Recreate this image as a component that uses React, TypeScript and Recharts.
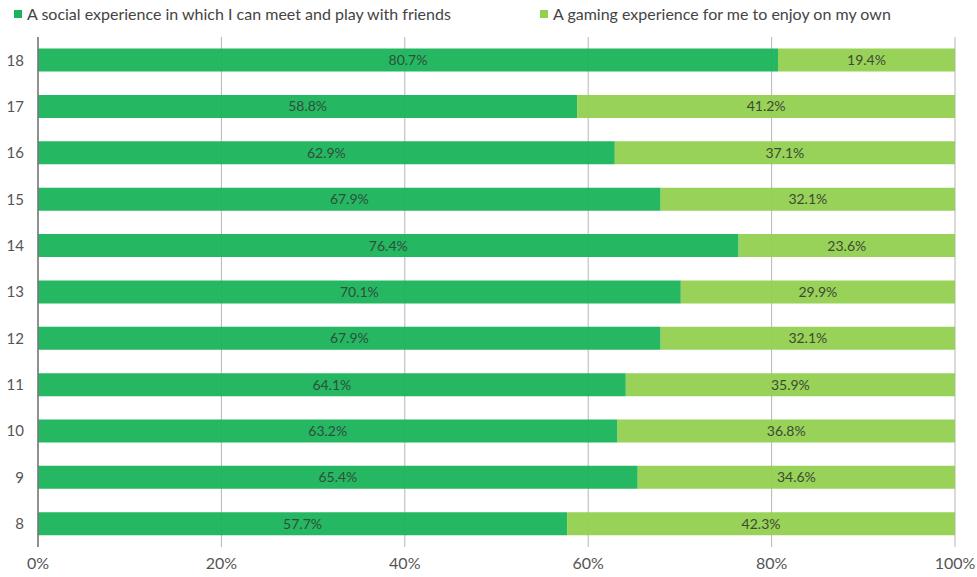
import React from 'react';
import { BarChart, Bar, XAxis, YAxis, CartesianGrid, Legend, LabelList } from 'recharts';

const ages = ['18', '17', '16', '15', '14', '13', '12', '11', '10', '9', '8'];
const socialValues = [80.7, 58.8, 62.9, 67.9, 76.4, 70.1, 67.9, 64.1, 63.2, 65.4, 57.7];
const soloValues = [19.4, 41.2, 37.1, 32.1, 23.6, 29.9, 32.1, 35.9, 36.8, 34.6, 42.3];
const xTicks = [0, 20, 40, 60, 80, 100];

const SOCIAL_LABEL = 'A social experience in which I can meet and play with friends';
const SOLO_LABEL = 'A gaming experience for me to enjoy on my own';

const data = ages.map((age, i) => ({
  age,
  social: socialValues[i],
  solo: soloValues[i],
}));

const FONT = 'Lato, "Open Sans", sans-serif';

const LegendContent = () => {
  const items = [
    { label: SOCIAL_LABEL, color: '#1ab35b', left: 14 },
    { label: SOLO_LABEL, color: '#92d050', left: 540 },
  ];
  return (
    <div style={{ position: 'relative', height: 20, width: 977 }}>
      {items.map((it) => (
        <div
          key={it.label}
          style={{
            position: 'absolute',
            left: it.left,
            top: 4,
            display: 'flex',
            alignItems: 'center',
            fontFamily: FONT,
            fontSize: 16,
            color: '#444',
            whiteSpace: 'nowrap',
          }}
        >
          <span style={{ width: 8, height: 8, background: it.color, marginRight: 5, display: 'inline-block' }} />
          {it.label}
        </div>
      ))}
    </div>
  );
};

const App = () => {
  return (
    <div style={{ position: 'fixed', left: 0, top: 0, background: '#fff' }}>
      <BarChart
        width={977}
        height={577}
        data={data}
        layout="vertical"
        margin={{ top: 17, right: 22, bottom: 0, left: 0 }}
        barCategoryGap="25%"
      >
        <CartesianGrid horizontal={false} stroke="#b5b5b5" />
        <XAxis
          type="number"
          domain={[0, 100]}
          ticks={xTicks}
          allowDataOverflow
          axisLine={false}
          tickLine={false}
          tickSize={0}
          tickMargin={11}
          height={30}
          tickFormatter={(v) => `${v}%`}
          tick={{ fontSize: 16, fill: '#555', fontFamily: FONT }}
        />
        <YAxis
          type="category"
          dataKey="age"
          width={38}
          axisLine={{ stroke: '#777', strokeWidth: 1.5 }}
          tickLine={false}
          tickSize={0}
          tickMargin={14}
          tick={{ fontSize: 15, fill: '#555', fontFamily: FONT }}
        />
        <Legend verticalAlign="top" align="left" content={<LegendContent />} wrapperStyle={{ top: 0, left: 0 }} />
        <Bar dataKey="social" name={SOCIAL_LABEL} stackId="a" fill="#1ab35b" fillOpacity={0.95} isAnimationActive={false}>
          <LabelList
            dataKey="social"
            position="center"
            formatter={(v: any) => `${v}%`}
            style={{ fontSize: 14, fill: '#2e4f3a', fontFamily: FONT }}
          />
        </Bar>
        <Bar dataKey="solo" name={SOLO_LABEL} stackId="a" fill="#92d050" fillOpacity={0.95} isAnimationActive={false}>
          <LabelList
            dataKey="solo"
            position="center"
            formatter={(v: any) => `${v}%`}
            style={{ fontSize: 14, fill: '#3d4a33', fontFamily: FONT }}
          />
        </Bar>
      </BarChart>
    </div>
  );
};

export default App;
